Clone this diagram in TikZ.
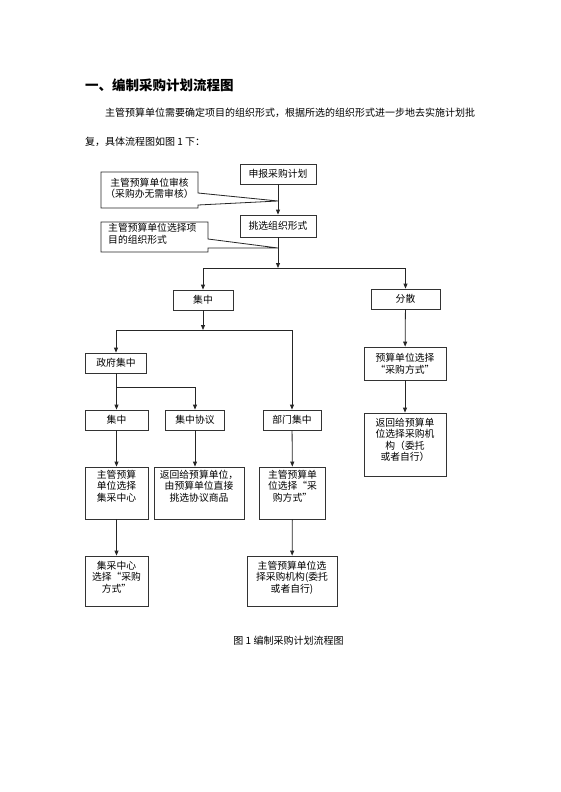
\documentclass[tikz,border=0pt]{standalone}
\usepackage{fontspec}
\setmainfont{Noto Sans CJK SC}
\usetikzlibrary{positioning,arrows.meta}

\tikzset{
    caja/.style={draw=black!80, line width=0.8pt, inner sep=0pt},
    texto/.style={font=\fontsize{9.8}{11.5}\selectfont, align=center, inner sep=0pt},
    linea/.style={draw=black!85, line width=0.8pt},
    flecha/.style={linea, -{Triangle[length=5pt,width=4pt]}}
}

\begin{document}
\begin{tikzpicture}[x=1pt, y=-1pt]
        % Definir coordenadas de las ramas
        \def\xc{278} % eje principal
        \def\ya{268} % primera rama
        \def\yb{330} % segunda rama
        \def\yc{387} % tercera rama

        \useasboundingbox (0,0) rectangle (560,792);

        % Titulo y parrafo
        \node[anchor=west, inner sep=0pt, font=\fontsize{13.5}{16}\selectfont\bfseries] (titulo) at (85,85) {一、编制采购计划流程图};
        \node[anchor=west, inner sep=0pt, font=\fontsize{10}{12}\selectfont] (parr1) at (105,113) {主管预算单位需要确定项目的组织形式，根据所选的组织形式进一步地去实施计划批};
        \node[anchor=west, inner sep=0pt, font=\fontsize{10}{12}\selectfont] (parr2) at (85,142) {复，具体流程图如图 1 下：};

        % Cajas superiores
        \node[caja, texto, minimum width=76pt, minimum height=20pt] (sbjh) at (\xc,174) {申报采购计划};
        \node[caja, texto, minimum width=76pt, minimum height=22pt] (txzz) at (\xc,226) {挑选组织形式};

        % Dibujar las notas con puntero
        \draw[linea] (198,193) -- (198,172) -- (101,172) -- (101,208) -- (198,208) -- (198,205) -- (\xc,201) -- cycle;
        \node[texto] (nota1) at (149.5,188.5) {主管预算单位审核\\（采购办无需审核）};
        \draw[linea] (208,239) -- (208,222) -- (101,222) -- (101,252) -- (208,252) -- (208,248) -- (\xc,248) -- cycle;
        \node[texto, align=left, anchor=north west] (nota2) at (108,223) {主管预算单位选择项\\目的组织形式};

        % Segundo nivel
        \node[caja, texto, minimum width=60pt, minimum height=20pt] (jz) at (203,300) {集中};
        \node[caja, texto, minimum width=69pt, minimum height=20pt] (fs) at (405.5,299) {分散};

        % Tercer nivel
        \node[caja, texto, minimum width=61pt, minimum height=20pt] (zfjz) at (116,363) {政府集中};
        \node[caja, texto, minimum width=58pt, minimum height=20pt] (bmjz) at (292,420) {部门集中};
        \node[caja, texto, minimum width=63pt, minimum height=20pt] (jz2) at (116.5,420) {集中};
        \node[caja, texto, minimum width=59pt, minimum height=20pt] (jzxy) at (195,420) {集中协议};

        % Rama dispersa
        \node[caja, texto, minimum width=82pt, minimum height=33pt] (ysxz) at (405,363.5) {预算单位选择\\“采购方式”};
        \node[caja, minimum width=82pt, minimum height=63pt] (fhjg) at (405,444.5) {};
        \node[texto, below=5pt of fhjg.north] (fhjg-t) {返回给预算单\\位选择采购机\\构（委托\\或者自行）};

        % Cajas inferiores
        \node[caja, minimum width=63pt, minimum height=52pt] (jczx) at (116.5,493) {};
        \node[texto, below=3pt of jczx.north] (jczx-t) {主管预算\\单位选择\\集采中心};
        \node[caja, minimum width=90pt, minimum height=52pt] (fhxy) at (199,493) {};
        \node[texto, below=3pt of fhxy.north] (fhxy-t) {返回给预算单位，\\由预算单位直接\\挑选协议商品};
        \node[caja, minimum width=66pt, minimum height=52pt] (zgcg) at (292.5,493) {};
        \node[texto, below=3pt of zgcg.north] (zgcg-t) {主管预算单\\位选择“采\\购方式”};
        \node[caja, minimum width=63pt, minimum height=50pt] (jccg) at (116.5,581) {};
        \node[texto, below=5pt of jccg.north] (jccg-t) {集采中心\\选择“采购\\方式”};
        \node[caja, minimum width=90pt, minimum height=50pt] (zgjg) at (292,581) {};
        \node[texto, below=5pt of zgjg.north] (zgjg-t) {主管预算单位选\\择采购机构(委托\\或者自行)};

        % Puntos de las ramas
        \coordinate (r1) at (\xc,\ya);
        \coordinate (r2) at (203,\yb);
        \coordinate (r3) at (116,\yc);

        % Dibujar las flechas
        \draw[flecha] (sbjh) -- (txzz);
        \draw[flecha] (txzz) -- (r1);
        \draw[flecha] (r1) -| (jz);
        \draw[flecha] (r1) -| (fs);
        \draw[flecha] (jz) -- (r2);
        \draw[flecha] (r2) -| (zfjz);
        \draw[flecha] (r2) -| (bmjz);
        \draw[linea] (zfjz) -- (r3);
        \draw[flecha] (r3) -| (jz2);
        \draw[flecha] (r3) -| (jzxy);
        \draw[flecha] (fs) -- (ysxz);
        \draw[flecha] (ysxz) -- (fhjg);
        \draw[flecha] (jz2) -- (jczx);
        \draw[flecha] (jzxy) -- (jzxy.south |- fhxy.north);
        \draw[flecha] (bmjz) -- (zgcg);
        \draw[flecha] (jczx) -- (jccg);
        \draw[flecha] (zgcg) -- (zgjg);

        % Etiqueta de la figura
        \node[inner sep=0pt, font=\fontsize{10}{12}\selectfont] (pie) at (288.5,641) {图 1 编制采购计划流程图};
    \end{tikzpicture}
\end{document}
